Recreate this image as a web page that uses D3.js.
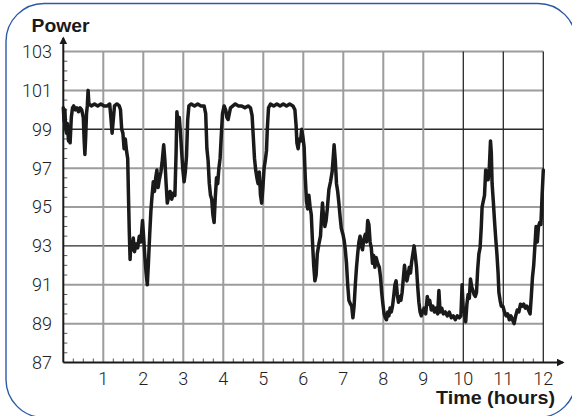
<!DOCTYPE html>
<html>
<head>
<meta charset="utf-8">
<script src="https://cdn.jsdelivr.net/npm/d3@7"></script>
<style>
  html, body { margin: 0; padding: 0; background: #fff; }
  svg { display: block; }
</style>
</head>
<body>
<svg id="chart" width="572" height="416"></svg>
<script>
// ---- Data ----
const hours = [
0.00,0.02,0.04,0.06,0.08,0.10,0.13,0.15,0.17,0.20,0.23,0.26,0.30,0.34,0.38,0.42,0.46,0.50,0.52,0.54,0.56,0.58,0.60,0.62,0.64,0.70,0.78,0.86,0.94,1.02,1.10,1.16,1.19,1.22,1.25,1.28,1.34,1.40,1.43,1.46,1.49,1.52,1.55,1.58,1.61,1.63,1.65,1.67,1.69,1.72,1.75,1.78,1.82,1.86,1.90,1.94,1.98,2.01,2.04,2.07,2.10,2.13,2.16,2.19,2.22,2.25,2.28,2.31,2.34,2.37,2.40,2.44,2.47,2.51,2.54,2.57,2.60,2.63,2.67,2.71,2.75,2.79,2.82,2.84,2.87,2.90,2.93,2.96,2.99,
3.02,3.05,3.08,3.11,3.14,3.20,3.28,3.36,3.44,3.52,3.56,3.59,3.62,3.65,3.68,3.71,3.74,3.77,3.80,3.83,3.86,3.89,3.92,3.95,3.98,4.02,4.06,4.09,4.12,4.15,4.18,4.24,4.30,4.38,4.46,4.54,4.62,4.68,4.72,4.75,4.78,4.81,4.84,4.87,4.90,4.93,4.96,4.99,5.02,5.05,5.08,5.10,5.13,5.18,5.26,5.34,5.42,5.50,5.58,5.66,5.74,5.79,5.82,5.84,5.87,5.90,5.93,5.96,5.99,
6.02,6.05,6.08,6.11,6.14,6.17,6.20,6.23,6.26,6.29,6.32,6.35,6.39,6.43,6.46,6.48,6.51,6.54,6.57,6.60,6.64,6.68,6.72,6.75,6.77,6.80,6.83,6.86,6.89,6.92,6.95,6.99,7.02,7.05,7.08,7.11,7.14,7.18,7.21,7.24,7.27,7.30,7.33,7.36,7.39,7.42,7.45,7.48,7.51,7.55,7.58,7.61,7.64,7.67,7.70,7.73,7.76,7.79,7.82,7.86,7.90,7.93,7.96,7.99,
8.02,8.05,8.08,8.11,8.14,8.17,8.20,8.23,8.26,8.29,8.32,8.35,8.38,8.41,8.44,8.47,8.50,8.53,8.56,8.59,8.62,8.65,8.68,8.71,8.74,8.77,8.80,8.83,8.86,8.89,8.92,8.95,8.98,9.02,9.06,9.10,9.13,9.16,9.20,9.24,9.28,9.32,9.36,9.39,9.42,9.46,9.50,9.55,9.60,9.65,9.70,9.75,9.80,9.85,9.90,9.94,9.97,
10.00,10.03,10.06,10.09,10.12,10.15,10.18,10.21,10.24,10.27,10.30,10.33,10.36,10.39,10.42,10.45,10.47,10.50,10.53,10.56,10.59,10.62,10.65,10.68,10.70,10.72,10.75,10.78,10.81,10.84,10.87,10.89,10.92,10.95,10.99,11.03,11.07,11.11,11.15,11.19,11.23,11.27,11.31,11.35,11.39,11.43,11.47,11.51,11.55,11.59,11.63,11.67,11.70,11.73,11.76,11.79,11.82,11.85,11.88,11.91,11.94,11.97,12.00
];
const power = [
100.1,99.4,100.0,99.0,98.8,99.3,98.4,98.9,98.3,99.6,100.1,100.2,100.0,100.1,99.9,100.1,100.0,99.6,98.5,97.7,98.6,99.8,100.2,101.0,100.3,100.2,100.3,100.2,100.3,100.2,100.2,100.3,99.6,98.8,99.5,100.2,100.3,100.2,100.0,99.0,98.8,98.0,98.5,97.9,97.5,95.5,93.7,92.3,93.2,92.8,93.4,92.7,93.1,92.9,93.5,93.2,94.3,93.4,92.4,91.6,91.0,92.2,93.6,94.8,95.6,96.3,95.8,96.5,96.9,96.0,96.4,96.8,97.3,98.2,97.4,96.2,95.2,95.5,95.8,95.4,95.7,95.6,97.8,99.9,99.2,99.6,98.8,97.8,96.9,
96.3,96.8,97.6,99.5,100.2,100.3,100.2,100.3,100.2,100.2,99.8,98.0,97.4,96.2,95.6,95.4,94.6,94.2,95.5,96.5,96.2,97.0,97.5,98.7,99.8,100.2,100.0,99.6,99.5,99.8,100.1,100.2,100.3,100.2,100.2,100.1,100.2,100.1,99.7,98.6,97.5,96.9,96.5,96.2,96.8,95.6,95.2,96.0,97.0,97.4,97.9,99.0,100.1,100.3,100.2,100.3,100.2,100.3,100.2,100.3,100.2,100.0,99.2,98.3,98.0,98.5,98.4,99.0,98.6,
98.1,96.5,95.3,94.9,95.6,95.0,94.6,93.2,92.0,91.2,91.5,92.6,93.1,93.5,94.6,95.2,94.4,94.0,94.3,94.9,95.9,96.3,96.8,97.6,98.2,97.4,96.2,95.8,95.2,94.5,93.9,93.6,93.3,92.8,92.1,91.0,90.2,90.0,89.9,89.3,89.9,91.0,91.9,92.6,93.2,93.5,93.0,92.8,93.3,93.6,93.2,94.3,94.1,93.2,92.9,92.1,92.5,91.9,92.4,92.1,91.9,91.4,90.6,90.0,
89.5,89.3,89.2,89.6,89.4,89.8,89.6,89.9,90.4,91.0,91.2,90.5,90.1,90.4,90.2,90.6,91.3,92.0,91.4,91.2,91.5,91.9,91.6,92.2,92.6,93.0,92.5,91.9,90.9,90.1,89.6,89.4,89.6,89.8,89.5,90.4,90.0,90.2,89.7,89.9,89.6,89.8,89.5,90.7,89.6,89.8,89.5,89.6,89.4,89.6,89.3,89.4,89.2,89.4,89.3,89.4,91.0,
89.7,89.6,89.1,90.0,90.5,90.3,91.3,90.9,90.7,90.5,90.4,90.6,91.8,92.6,92.9,94.0,95.0,95.3,95.6,96.9,96.8,96.4,97.0,98.4,97.8,96.2,95.3,94.3,93.4,92.6,91.6,90.6,90.2,89.9,89.9,89.6,89.4,89.5,89.2,89.4,89.2,89.0,89.4,89.7,89.6,90.0,89.9,90.0,89.8,89.9,89.7,89.5,90.4,91.4,92.0,93.0,94.0,93.2,94.0,94.2,94.1,95.6,96.9
];
const xTickLabels = ["1","2","3","4","5","6","7","8","9","10","11","12"];
const yTickLabels = ["87","89","91","93","95","97","99","101","103"];
const yTitle = "Power";
const xTitle = "Time (hours)";
const darkYGrid = [99, 93];
const darkXGrid = [10, 11, 12];

// ---- Layout ----
const svg = d3.select("#chart");
const x = d3.scaleLinear().domain([0, 12]).range([63.3, 543.3]);
const y = d3.scaleLinear().domain([87, 103]).range([362.5, 51.5]);

// Rounded blue frame
svg.append("rect")
  .attr("x", 6).attr("y", 3.5).attr("width", 570).attr("height", 414)
  .attr("rx", 38).attr("ry", 38)
  .attr("fill", "none").attr("stroke", "#2a5aa8").attr("stroke-width", 1.4);

const g = svg.append("g");

// Grid lines
const yGridVals = yTickLabels.map(Number).filter(v => v > 87);
g.selectAll("line.hg").data(yGridVals).join("line")
  .attr("x1", x(0)).attr("x2", x(12))
  .attr("y1", d => y(d)).attr("y2", d => y(d))
  .attr("stroke", d => darkYGrid.includes(d) ? "#2a2a2a" : "#9c9c9c")
  .attr("stroke-width", d => darkYGrid.includes(d) ? 1.3 : 2);

const xGridVals = xTickLabels.map(Number);
g.selectAll("line.vg").data(xGridVals).join("line")
  .attr("y1", y(87)).attr("y2", y(103))
  .attr("x1", d => x(d)).attr("x2", d => x(d))
  .attr("stroke", d => darkXGrid.includes(d) ? "#2a2a2a" : "#9c9c9c")
  .attr("stroke-width", d => darkXGrid.includes(d) ? 1.3 : 2);

// Minor ticks
const yMinor = d3.range(87.5, 103, 0.5).filter(v => Math.abs((v - 87) % 2) > 0.01);
g.selectAll("line.ym").data(yMinor).join("line")
  .attr("x1", x(0)).attr("x2", x(0) + 4)
  .attr("y1", d => y(d)).attr("y2", d => y(d))
  .attr("stroke", "#555").attr("stroke-width", 1);
const xMinor = d3.range(0.25, 12, 0.25).filter(v => Math.abs(v - Math.round(v)) > 0.01);
g.selectAll("line.xm").data(xMinor).join("line")
  .attr("x1", d => x(d)).attr("x2", d => x(d))
  .attr("y1", y(87)).attr("y2", y(87) - 4)
  .attr("stroke", "#555").attr("stroke-width", 1);

// Axes lines with arrows
svg.append("defs").append("marker")
  .attr("id", "arrow").attr("viewBox", "0 0 10 10")
  .attr("refX", 8).attr("refY", 5)
  .attr("markerWidth", 4).attr("markerHeight", 4)
  .attr("markerUnits", "strokeWidth")
  .attr("orient", "auto")
  .append("path").attr("d", "M0,0 L10,5 L0,10 Z").attr("fill", "#1a1a1a");

g.append("line")
  .attr("x1", x(0)).attr("x2", x(0)).attr("y1", y(87)).attr("y2", 38)
  .attr("stroke", "#1a1a1a").attr("stroke-width", 2)
  .attr("marker-end", "url(#arrow)");
g.append("line")
  .attr("x1", x(0)).attr("x2", 563).attr("y1", y(87)).attr("y2", y(87))
  .attr("stroke", "#1a1a1a").attr("stroke-width", 2)
  .attr("marker-end", "url(#arrow)");

// Data line
const data = hours.map((h, i) => ({ h, v: power[i] }));
g.append("path")
  .datum(data)
  .attr("fill", "none")
  .attr("stroke", "#1a1a1a")
  .attr("stroke-width", 3.5)
  .attr("stroke-linejoin", "round")
  .attr("stroke-linecap", "round")
  .attr("d", d3.line().x(d => x(d.h)).y(d => y(d.v)));

// Tick labels
const labelFont = "Roboto, 'Liberation Sans', Arial, sans-serif";
g.selectAll("text.yl").data(yTickLabels).join("text")
  .attr("x", 52).attr("y", d => y(+d)).attr("dy", "0.36em")
  .attr("text-anchor", "end")
  .attr("font-family", labelFont).attr("font-weight", 300)
  .attr("font-size", 18).attr("fill", "#222")
  .text(d => d);
g.selectAll("text.xl").data(xTickLabels).join("text")
  .attr("x", d => x(+d)).attr("y", 384.5)
  .attr("text-anchor", "middle")
  .attr("font-family", labelFont).attr("font-weight", 300)
  .attr("font-size", 18).attr("fill", "#222")
  .text(d => d);

// Titles
svg.append("text")
  .attr("x", 31.5).attr("y", 31.5)
  .attr("font-family", "'Liberation Sans', Arial, sans-serif")
  .attr("font-weight", "bold").attr("font-size", 18).attr("fill", "#1a1a1a")
  .attr("textLength", 58).attr("lengthAdjust", "spacingAndGlyphs")
  .text(yTitle);
svg.append("text")
  .attr("x", 555).attr("y", 404)
  .attr("text-anchor", "end")
  .attr("font-family", "'Liberation Sans', Arial, sans-serif")
  .attr("font-weight", "bold").attr("font-size", 18).attr("fill", "#1a1a1a")
  .attr("textLength", 119).attr("lengthAdjust", "spacingAndGlyphs")
  .text(xTitle);
</script>
</body>
</html>
